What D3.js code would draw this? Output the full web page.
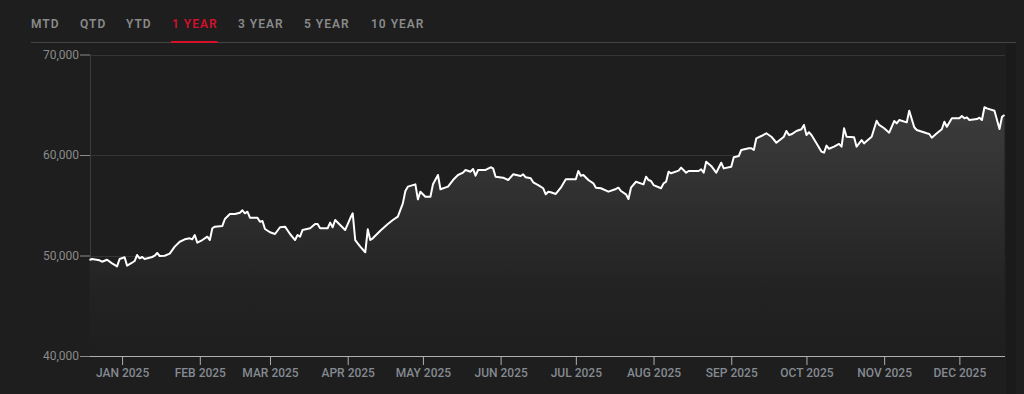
<!DOCTYPE html>
<html>
<head>
<meta charset="utf-8">
<script src="https://cdn.jsdelivr.net/npm/d3@7"></script>
<style>
  html, body { margin: 0; padding: 0; background: #1e1e1e; }
  svg { display: block; }
  text { font-family: Roboto, "Noto Sans", sans-serif; }
</style>
</head>
<body>
<svg id="chart" width="1024" height="394"></svg>
<script>
// ---- data ----
const tabs = ["MTD", "QTD", "YTD", "1 YEAR", "3 YEAR", "5 YEAR", "10 YEAR"];
const activeTab = "1 YEAR";
const yTicks = [40000, 50000, 60000, 70000];
const xTickMonths = ["2025-01-01","2025-02-01","2025-03-01","2025-04-01","2025-05-01","2025-06-01",
                     "2025-07-01","2025-08-01","2025-09-01","2025-10-01","2025-11-01","2025-12-01"];
const dates = [
 "2024-12-19","2024-12-20","2024-12-23","2024-12-24","2024-12-26","2024-12-28","2024-12-30","2024-12-31",
 "2025-01-02","2025-01-03","2025-01-05","2025-01-06","2025-01-07","2025-01-08","2025-01-09","2025-01-10",
 "2025-01-13","2025-01-14","2025-01-15","2025-01-16","2025-01-18","2025-01-20","2025-01-22","2025-01-24",
 "2025-01-26","2025-01-28","2025-01-29","2025-01-30","2025-01-31","2025-02-02","2025-02-04","2025-02-05",
 "2025-02-06","2025-02-07","2025-02-10","2025-02-11","2025-02-13","2025-02-15","2025-02-17","2025-02-18",
 "2025-02-19","2025-02-20","2025-02-21","2025-02-24","2025-02-25","2025-02-26","2025-02-27","2025-03-01",
 "2025-03-03","2025-03-05","2025-03-07","2025-03-09","2025-03-11","2025-03-12","2025-03-13","2025-03-14",
 "2025-03-17","2025-03-19","2025-03-20","2025-03-21","2025-03-24","2025-03-25","2025-03-26","2025-03-27",
 "2025-03-29","2025-03-31","2025-04-02","2025-04-03","2025-04-04","2025-04-06","2025-04-08","2025-04-09",
 "2025-04-10","2025-04-11","2025-04-14","2025-04-17","2025-04-19","2025-04-21","2025-04-23","2025-04-24",
 "2025-04-25","2025-04-28","2025-04-29","2025-04-30","2025-05-02","2025-05-04","2025-05-05","2025-05-07",
 "2025-05-08","2025-05-11","2025-05-13","2025-05-15","2025-05-17","2025-05-18","2025-05-20","2025-05-21",
 "2025-05-22","2025-05-23","2025-05-26","2025-05-28","2025-05-29","2025-05-30","2025-06-02","2025-06-04",
 "2025-06-06","2025-06-09","2025-06-10","2025-06-11","2025-06-13","2025-06-14","2025-06-16","2025-06-18",
 "2025-06-19","2025-06-20","2025-06-21","2025-06-23","2025-06-25","2025-06-27","2025-07-01","2025-07-02",
 "2025-07-03","2025-07-04","2025-07-06","2025-07-08","2025-07-09","2025-07-11","2025-07-14","2025-07-17",
 "2025-07-18","2025-07-19","2025-07-21","2025-07-22","2025-07-23","2025-07-25","2025-07-28","2025-07-29",
 "2025-07-30","2025-07-31","2025-08-01","2025-08-04","2025-08-05","2025-08-06","2025-08-07","2025-08-08",
 "2025-08-11","2025-08-12","2025-08-14","2025-08-15","2025-08-19","2025-08-20","2025-08-21","2025-08-22",
 "2025-08-24","2025-08-26","2025-08-28","2025-08-29","2025-09-01","2025-09-02","2025-09-04","2025-09-05",
 "2025-09-08","2025-09-09","2025-09-10","2025-09-11","2025-09-13","2025-09-15","2025-09-17","2025-09-19",
 "2025-09-22","2025-09-23","2025-09-24","2025-09-25","2025-09-27","2025-09-29","2025-09-30","2025-10-01",
 "2025-10-02","2025-10-03","2025-10-05","2025-10-07","2025-10-08","2025-10-09","2025-10-10","2025-10-12",
 "2025-10-14","2025-10-15","2025-10-16","2025-10-17","2025-10-20","2025-10-21","2025-10-23","2025-10-24",
 "2025-10-27","2025-10-29","2025-10-30","2025-11-01","2025-11-03","2025-11-05","2025-11-06","2025-11-07",
 "2025-11-10","2025-11-11","2025-11-13","2025-11-14","2025-11-18","2025-11-19","2025-11-20","2025-11-22",
 "2025-11-24","2025-11-25","2025-11-26","2025-11-28","2025-12-01","2025-12-02","2025-12-03","2025-12-04",
 "2025-12-05","2025-12-08","2025-12-09","2025-12-10","2025-12-11","2025-12-12","2025-12-15","2025-12-17",
 "2025-12-18","2025-12-19"
];
const values = [
 49550,49650,49520,49380,49580,49220,48920,49650,
 49820,48990,49280,49450,50050,49720,49850,49650,
 49850,49980,50250,49950,49980,50180,50880,51370,
 51610,51710,51610,52040,51280,51540,51870,51540,
 52710,52870,52940,53630,54130,54130,54260,54500,
 54200,54360,53760,53760,53360,53430,52640,52310,
 52140,52810,52870,52140,51540,52040,51870,52540,
 52710,53130,53130,52710,52710,53270,52810,53530,
 53040,52540,53700,54200,51540,50880,50320,52610,
 51540,51710,52470,53130,53530,53860,55190,56420,
 56850,57080,55590,56350,55850,55850,57080,58010,
 56590,56850,57510,58010,58240,58510,58340,58610,
 57940,58510,58510,58780,58670,57840,57740,57510,
 58080,57910,58080,57780,57680,57280,57010,56690,
 56090,56350,56290,56120,56750,57580,57580,58410,
 57940,58010,57510,57180,56750,56690,56350,56620,
 56750,56420,56090,55620,56750,57340,57080,57840,
 57510,57410,57010,56690,57180,57340,58340,58180,
 58440,58740,58240,58410,58410,58580,58240,59330,
 58910,58240,59230,58670,58840,59770,59900,60500,
 60670,60670,60500,61660,61890,62160,61820,61220,
 61820,62390,61990,62060,62390,62560,62990,61990,
 62260,61990,61160,60330,60230,60930,60620,60830,
 61100,60830,62660,61820,61760,60830,61490,61160,
 61820,63410,62990,62660,62220,63380,63150,63480,
 63250,64410,62760,62490,62160,62090,61720,62160,
 62560,63310,62810,63650,63650,63880,63650,63750,
 63480,63580,63710,63480,64750,64640,64410,62590,
 63810,63980
];

// ---- drawing ----
const parse = d3.timeParse("%Y-%m-%d");
const data = dates.map((d, i) => ({ date: parse(d), value: values[i] }));

const svg = d3.select("#chart");
const W = 1024, H = 394;
const mLeft = 90, mRight = 1005, mTop = 54.5, mBottom = 356;

svg.append("rect").attr("width", W).attr("height", H).attr("fill", "#1e1e1e");
// darker strip at right edge
svg.append("rect").attr("x", 1006).attr("y", 43).attr("width", 10).attr("height", H - 43).attr("fill", "#1a1a1a");

const x = d3.scaleTime()
  .domain([parse("2024-12-19"), parse("2025-12-19")])
  .range([mLeft - 0.5, mRight - 0.5]);
const y = d3.scaleLinear().domain([40000, 70000]).range([mBottom, mTop]);

// tabs
const tabX = [31, 80, 126, 172, 238, 304, 371];
const tabG = svg.append("g");
tabG.append("line").attr("x1", 31).attr("x2", 1016).attr("y1", 42.5).attr("y2", 42.5)
  .attr("stroke", "#444").attr("stroke-width", 1);
tabs.forEach((t, i) => {
  const txt = tabG.append("text")
    .attr("x", tabX[i]).attr("y", 28)
    .attr("font-size", 12).attr("font-weight", 600)
    .attr("letter-spacing", "1px")
    .attr("fill", t === activeTab ? "#d4102b" : "#8a8a8a")
    .text(t);
  if (t === activeTab) {
    const w = txt.node().getComputedTextLength();
    tabG.append("rect").attr("x", tabX[i] - 1).attr("y", 41).attr("width", w + 1).attr("height", 2)
      .attr("fill", "#d4102b");
  }
});

// gridlines
svg.append("g").selectAll("line").data(yTicks.filter(v => v > 40000)).join("line")
  .attr("x1", mLeft).attr("x2", mRight)
  .attr("y1", d => Math.round(y(d)) + 0.5).attr("y2", d => Math.round(y(d)) + 0.5)
  .attr("stroke", "#353535");

// y axis line
svg.append("line").attr("x1", mLeft + 0.5).attr("x2", mLeft + 0.5).attr("y1", mTop).attr("y2", mBottom)
  .attr("stroke", "#3c3c3c");

// area gradient
const defs = svg.append("defs");
const grad = defs.append("linearGradient").attr("id", "fillGrad")
  .attr("x1", 0).attr("x2", 0).attr("y1", 0).attr("y2", 1);
grad.append("stop").attr("offset", "0%").attr("stop-color", "#3c3c3c");
grad.append("stop").attr("offset", "40%").attr("stop-color", "#2e2e2e");
grad.append("stop").attr("offset", "75%").attr("stop-color", "#222222");
grad.append("stop").attr("offset", "100%").attr("stop-color", "#1e1e1e");

const area = d3.area().x(d => x(d.date)).y0(mBottom).y1(d => y(d.value));
svg.append("path").datum(data).attr("d", area).attr("fill", "url(#fillGrad)");

const line = d3.line().x(d => x(d.date)).y(d => y(d.value));
svg.append("path").datum(data).attr("d", line)
  .attr("fill", "none").attr("stroke", "#ffffff").attr("stroke-width", 2)
  .attr("stroke-linejoin", "round");

// y axis ticks + labels
const yAxis = d3.axisLeft(y).tickValues(yTicks).tickSize(10).tickPadding(1)
  .tickFormat(d3.format(","));
const yg = svg.append("g").attr("transform", `translate(${mLeft},0)`).call(yAxis);
yg.select(".domain").remove();
yg.selectAll(".tick line").attr("stroke", "#8a8a8a");
yg.selectAll(".tick text").attr("fill", "#8a8a8a").attr("font-size", 12)
  .attr("font-family", "Roboto, sans-serif");

// x axis
const xAxis = d3.axisBottom(x).tickValues(xTickMonths.map(parse)).tickSize(9).tickPadding(3)
  .tickFormat(d => d3.timeFormat("%b %Y")(d).toUpperCase());
const xg = svg.append("g").attr("transform", `translate(0,${mBottom})`).call(xAxis);
xg.select(".domain").attr("d", `M${mLeft},0.5H${mRight}`).attr("stroke", "#b0b0b0");
xg.selectAll(".tick line").attr("stroke", "#b0b0b0");
xg.selectAll(".tick text").attr("fill", "#848a91").attr("font-size", 12).attr("font-weight", 500)
  .attr("font-family", "Roboto, sans-serif");
</script>
</body>
</html>
